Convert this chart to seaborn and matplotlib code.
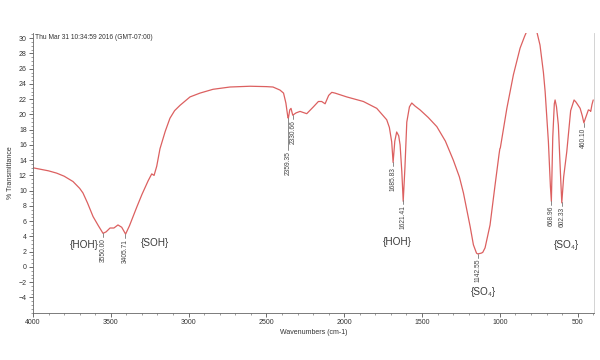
import matplotlib
matplotlib.use("Agg")
import matplotlib.pyplot as plt
from matplotlib.ticker import MultipleLocator, FixedLocator
import numpy as np
import pandas as pd
import seaborn as sns

# spectrum (wavenumber cm-1, % transmittance)
wavenumber = [4000, 3950, 3900, 3848, 3800, 3743, 3700, 3679, 3650, 3614, 3580, 3550,
              3530, 3505, 3480, 3454, 3430, 3405, 3380, 3334, 3300, 3260, 3237, 3222,
              3205, 3184, 3150, 3120, 3090, 3055, 2991, 2927, 2843, 2734, 2605, 2500,
              2458, 2413, 2390, 2375, 2362, 2359, 2350, 2342, 2331, 2310, 2284, 2241,
              2198, 2166, 2145, 2123, 2100, 2080, 2059, 1984, 1877, 1791, 1727, 1710,
              1695, 1686, 1675, 1663, 1650, 1641, 1630, 1621, 1610, 1598, 1581, 1566,
              1545, 1513, 1460, 1405, 1350, 1299, 1260, 1234, 1191, 1170, 1150, 1142,
              1120, 1110, 1095, 1063, 1031, 1005, 1000, 997, 955, 913, 870, 840, 827,
              763, 742, 720, 709, 688, 675, 669, 660, 650, 645, 636, 624, 610, 602, 590,
              570, 545, 523, 510, 484, 470, 460, 450, 431, 420, 416, 408, 400]
transmittance = [13.0, 12.8, 12.6, 12.3, 11.9, 11.2, 10.3, 9.7, 8.4, 6.6, 5.4, 4.4,
                 4.6, 5.1, 5.1, 5.5, 5.2, 4.3, 5.4, 7.8, 9.5, 11.3, 12.2, 12.0,
                 13.2, 15.5, 17.8, 19.5, 20.5, 21.2, 22.3, 22.8, 23.3, 23.6, 23.7, 23.65,
                 23.6, 23.2, 22.8, 21.5, 19.6, 19.5, 20.6, 20.8, 19.9, 20.2, 20.4, 20.1,
                 21.0, 21.7, 21.7, 21.4, 22.5, 22.9, 22.8, 22.3, 21.7, 20.8, 19.3, 18.3,
                 16.4, 13.7, 16.5, 17.7, 17.2, 16.0, 12.5, 8.6, 13.0, 19.0, 21.0, 21.5,
                 21.1, 20.6, 19.6, 18.4, 16.5, 14.0, 11.8, 9.7, 5.3, 2.9, 1.8, 1.7,
                 1.8, 1.9, 2.5, 5.5, 10.7, 14.8, 15.5, 15.6, 20.8, 25.2, 28.7, 30.3, 30.9,
                 30.9, 29.1, 25.5, 23.0, 16.4, 10.5, 8.6, 17.0, 21.4, 21.9, 21.0, 18.6, 12.0, 8.4, 11.8,
                 15.1, 20.5, 21.9, 21.6, 20.8, 19.8, 18.9, 19.5, 20.6, 20.5, 20.4, 21.3, 21.9]

peak_wn = [3550.00, 3405.71, 2359.35, 2330.66, 1685.83, 1621.41, 1142.55, 668.96, 602.33, 460.10]
peak_labels = ["3550.00", "3405.71", "2359.35", "2330.66", "1685.83", "1621.41",
               "1142.55", "668.96", "602.33", "460.10"]

group_labels = ["{HOH}", "{SOH}", "{HOH}", "{SO\u2084}", "{SO\u2084}"]
group_wn = [3670, 3216, 1661, 1108, 574]
group_t = [2.9, 3.1, 3.3, -3.3, 2.9]

timestamp = "Thu Mar 31 10:34:59 2016 (GMT-07:00)"

df = pd.DataFrame({"wn": wavenumber, "T": transmittance})

sns.set_style("white")
plt.rcParams["font.family"] = ["Liberation Sans", "DejaVu Sans"]

fig = plt.figure(figsize=(6, 3.6), dpi=100)
ax = fig.add_axes([0.055, 0.131, 0.935, 0.777])

sns.lineplot(data=df, x="wn", y="T", sort=False, color="#dc6060", linewidth=0.9,
             ax=ax, estimator=None)

ax.set_xlim(4000, 395)
ax.set_ylim(-6.03, 30.67)

# peak markers: short grey leader + rotated value
wn_sorted = np.array(wavenumber[::-1], dtype=float)
t_sorted = np.array(transmittance[::-1], dtype=float)
for w, lab in zip(peak_wn, peak_labels):
    t = np.interp(w, wn_sorted, t_sorted)
    drop = 4.2 if lab == "2359.35" else 0.5
    ax.plot([w, w], [t, t - drop], color="#777777", lw=0.6)
    ax.text(w, t - drop - 0.15, lab, rotation=90, ha="center", va="top",
            fontsize=4.8, color="#444444")

for lab, w, t in zip(group_labels, group_wn, group_t):
    ax.text(w, t, lab, ha="center", va="center", fontsize=7.2, color="#3a3a3a",
            family=["Liberation Sans", "DejaVu Sans"])

ax.text(0.004, 0.985, timestamp, transform=ax.transAxes, ha="left", va="center",
        fontsize=4.8, color="#333333")

ax.xaxis.set_major_locator(FixedLocator([4000, 3500, 3000, 2500, 2000, 1500, 1000, 500]))
ax.xaxis.set_minor_locator(MultipleLocator(100))
ax.yaxis.set_major_locator(FixedLocator(list(range(-4, 31, 2))))
ax.yaxis.set_minor_locator(MultipleLocator(0.5))
ax.tick_params(axis="both", which="major", length=3, width=0.6, color="#555555",
               labelsize=5, labelcolor="#333333", pad=1.5)
ax.tick_params(axis="both", which="minor", length=1.5, width=0.5, color="#777777")
ax.tick_params(left=True, bottom=True, which="both")

ax.set_xlabel("Wavenumbers (cm-1)", fontsize=5, color="#333333", labelpad=2)
ax.set_ylabel("% Transmittance", fontsize=5, color="#333333", labelpad=3)

for side in ["left", "bottom"]:
    ax.spines[side].set_color("#666666")
    ax.spines[side].set_linewidth(0.6)
ax.spines["top"].set_visible(False)
ax.spines["right"].set_color("#cccccc")
ax.spines["right"].set_linewidth(0.6)

fig.savefig("out.png", dpi=100)
